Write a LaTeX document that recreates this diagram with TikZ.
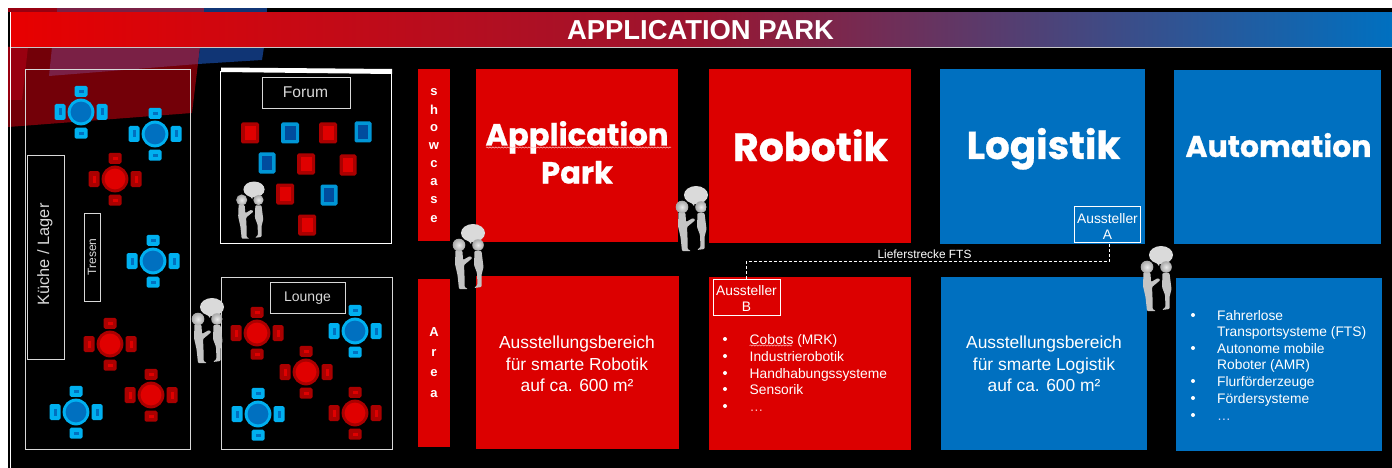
\documentclass[tikz,border=0pt]{standalone}
\usepackage{fontspec}
\setmainfont{Liberation Sans}
\newfontfamily\heavyfont{Poppins}[UprightFont=* Bold,UprightFeatures={FakeBold=0.7}]
\usetikzlibrary{decorations.pathmorphing}
\definecolor{rbox}{HTML}{DC0000}
\definecolor{bbox}{HTML}{0070C0}
\definecolor{tblue}{HTML}{00B0F0}
\definecolor{tbluein}{HTML}{0070C0}
\definecolor{stblue}{HTML}{0096D6}
\definecolor{stbluein}{HTML}{004C9E}
\definecolor{tred}{HTML}{AA0000}
\definecolor{tredin}{HTML}{E00000}
\definecolor{hdmid}{HTML}{9A1530}
\definecolor{hdleft}{HTML}{E80000}
\definecolor{line}{HTML}{D8D8D8}
\definecolor{bgdark}{HTML}{730008}
\definecolor{bgred}{HTML}{990010}
\definecolor{bgmauve}{HTML}{7A2045}
\definecolor{bgblue}{HTML}{103575}
\definecolor{bubble}{HTML}{DADADA}
\definecolor{figbody}{HTML}{C4C4C4}
\definecolor{headin}{HTML}{EAEAEA}
\definecolor{headout}{HTML}{A8A8A8}
\tikzset{
  x=1pt,y=-1pt,
  redbox/.style={fill=rbox,draw=none,inner sep=0,outer sep=0,anchor=north west},
  bluebox/.style={fill=bbox,draw=none,inner sep=0,outer sep=0,anchor=north west},
  room/.style={draw=line,line width=1pt,inner sep=0,outer sep=0,anchor=north west},
  labelbox/.style={draw=white,line width=.9pt,inner sep=0,outer sep=0,text=white,align=center,font=\fontsize{13.8}{16}\selectfont},
  roomtext/.style={text=line,inner sep=0,font=\fontsize{15.6}{18}\selectfont},
  headline/.style={text=white,inner sep=0,anchor=base,font=\heavyfont\fontsize{#1}{#1}\selectfont},
  bodytext/.style={text=white,inner sep=0,align=center,font=\fontsize{17.4}{21.5}\selectfont},
  listtext/.style={text=white,inner sep=0,anchor=west,text height=10pt,text depth=0pt,font=\fontsize{13.8}{16}\selectfont},
  bullet/.style={circle,fill=white,inner sep=0,minimum size=4pt},
  letter/.style={text=white,inner sep=0,font=\bfseries\fontsize{13}{13}\selectfont},
  chair/.style={rounded corners=1.6pt,fill=#1},
  figure head/.style={inner color=headin,outer color=headout},
  squiggle/.style={draw=#1,line width=.5pt,decorate,decoration={snake,amplitude=.6pt,segment length=3pt}},
}
\newcommand{\ttable}[4]{%
  \begin{scope}[shift={(#1,#2)}]
    \fill[chair=#3] (-6.5,-26.2) rectangle (6.5,-15.2);
    \fill[chair=#3] (-6.5,15.7) rectangle (6.5,26.7);
    \fill[chair=#3] (-26.5,-8) rectangle (-15.5,8);
    \fill[chair=#3] (15.5,-8) rectangle (26.5,8);
    \fill[#4] (-2.5,-22.2) rectangle (2.5,-19.2);
    \fill[#4] (-2.5,19.7) rectangle (2.5,22.7);
    \fill[#4] (-22.5,-3.5) rectangle (-19.5,3.5);
    \fill[#4] (19.5,-3.5) rectangle (22.5,3.5);
    \fill[#3] (0,0) circle (13.4);
    \fill[#4] (0,0) circle (10.4);
  \end{scope}}
\newcommand{\stool}[5]{%
  \fill[rounded corners=1.6pt,fill=#4] (#1-#3,#2-10.5) rectangle (#1+#3,#2+10.5);
  \fill[#5] (#1-#3+3.5,#2-7) rectangle (#1+#3-3.5,#2+7);}
\newcommand{\person}[3]{%
  \begin{scope}[shift={(#1,#2)},scale=#3]
    \fill[bubble] (14,-12) ellipse (12 and 9);
    \fill[bubble] (8,-6) -- (12,-1) -- (13,-5) -- cycle;
    \fill[figbody,rounded corners=1pt] (-3.5,5) -- (3.5,6) -- (4,15) -- (11,11) -- (13.5,13) -- (5,20) -- (5.5,30) -- (5.5,42) -- (9,44) -- (0,44) -- (-1.5,30) -- (-4,19) -- cycle;
    \shade[figure head] (0,0) circle (6.3);
    \fill[figbody,rounded corners=1pt] (15.5,6) -- (22.5,6) -- (24.5,22) -- (22.5,30) -- (22.5,42) -- (15,43) -- (18.5,40) -- (18,28) -- (15,20) -- cycle;
    \shade[figure head] (19,0) circle (5.8);
  \end{scope}}
\begin{document}
\begin{tikzpicture}
\useasboundingbox (0,0) rectangle (1392,468);
\fill[white] (0,0) rectangle (1392,468);
\fill[black] (8,8) rectangle (1392,468);
% backdrop remnants
\fill[bgred] (8,8) rectangle (57,12);
\fill[bgmauve] (57,8) rectangle (204,12);
\fill[bgblue] (204,8) rectangle (267,12);
\fill[bgdark] (8,127) -- (192,113) -- (200,47) -- (8,47) -- cycle;
\fill[bgred] (8,100) -- (22,100) -- (28,47) -- (8,47) -- cycle;
\fill[bgmauve] (49,76) -- (198,64) -- (200,47) -- (52,47) -- cycle;
\fill[bgblue] (198,64) -- (262,60) -- (264,47) -- (200,47) -- cycle;
% header
\draw[white,line width=.9pt] (10.5,468) -- (10.5,12.2) -- (1392,12.2);
\shade[left color=hdleft,right color=hdmid] (11,13) rectangle (700,47);
\shade[left color=hdmid,right color=bbox] (700,13) rectangle (1392,47);
\draw[line!80!gray,line width=.9pt] (11,47) -- (1392,47);
\node[text=white,inner sep=0,font=\bfseries\fontsize{27.4}{27}\selectfont] (title) at (700.5,30) {APPLICATION PARK};
% cafe room
\node[room,minimum width=165pt,minimum height=379pt] (cafe) at (25.5,70) {};
\node[room,minimum width=36.5pt,minimum height=203pt] (kitchen) at (27.5,156) {};
\node[room,minimum width=16.5pt,minimum height=87.5pt] (tresen) at (84,213.5) {};
\node[roomtext,rotate=90,font=\fontsize{16.4}{18}\selectfont] (kitchentext) at (45,254.5) {Küche / Lager};
\node[roomtext,rotate=90,font=\fontsize{12}{14}\selectfont] (tresentext) at (92,257) {Tresen};
\ttable{81}{112}{tblue}{tbluein}
\ttable{155}{134}{tblue}{tbluein}
\ttable{115}{179}{tred}{tredin}
\ttable{153}{261}{tblue}{tbluein}
\ttable{110}{344}{tred}{tredin}
\ttable{151}{395}{tred}{tredin}
\ttable{76}{412}{tblue}{tbluein}
% forum
\fill[white] (221,67.5) -- (392,69) -- (392,74) -- (221,72) -- cycle;
\node[room,draw=white,minimum width=171pt,minimum height=171.5pt] (forum) at (220.5,72) {};
\node[room,minimum width=88pt,minimum height=30.5pt] (forumbox) at (262,78) {};
\node[roomtext] (forumtext) at (305.5,92.5) {Forum};
\stool{250}{133}{9}{tred}{tredin}
\stool{290}{133}{9}{stblue}{stbluein}
\stool{328}{133}{9}{tred}{tredin}
\stool{363}{132}{8.5}{stblue}{stbluein}
\stool{267}{163}{8.5}{stblue}{stbluein}
\stool{306}{164}{9}{tred}{tredin}
\stool{348}{165}{8.5}{tred}{tredin}
\stool{285}{194}{9}{tred}{tredin}
\stool{329}{195}{8.5}{stblue}{stbluein}
\stool{307}{225}{9}{tred}{tredin}
% lounge
\node[room,minimum width=171pt,minimum height=172.5pt] (lounge) at (221.5,277) {};
\node[room,minimum width=74.5pt,minimum height=31pt] (loungebox) at (270.5,282) {};
\node[roomtext,font=\fontsize{14}{18}\selectfont] (loungetext) at (307.5,298.5) {Lounge};
\ttable{257}{333}{tred}{tredin}
\ttable{355}{331}{tblue}{tbluein}
\ttable{306}{372}{tred}{tredin}
\ttable{258}{414}{tblue}{tbluein}
\ttable{355}{413}{tred}{tredin}
% showcase / area
\node[redbox,minimum width=32pt,minimum height=172pt] (showcase) at (418,69) {};
\node[redbox,minimum width=32pt,minimum height=168pt] (area) at (418,279) {};
\node[letter] (s1) at (434,92) {s};
\node[letter] (s2) at (434,110) {h};
\node[letter] (s3) at (434,128) {o};
\node[letter] (s4) at (434,146) {w};
\node[letter] (s5) at (434,164) {c};
\node[letter] (s6) at (434,182) {a};
\node[letter] (s7) at (434,200) {s};
\node[letter] (s8) at (434,219) {e};
\node[letter] (a1) at (434,332) {A};
\node[letter] (a2) at (434,353) {r};
\node[letter] (a3) at (434,373) {e};
\node[letter] (a4) at (434,394) {a};
% main boxes
\node[redbox,minimum width=202pt,minimum height=173pt] (appl) at (476,69) {};
\node[redbox,minimum width=203pt,minimum height=173pt] (applb) at (476,276) {};
\node[redbox,minimum width=202pt,minimum height=174pt] (robo) at (709,69) {};
\node[redbox,minimum width=202pt,minimum height=173pt] (robob) at (709,277) {};
\node[bluebox,minimum width=205pt,minimum height=175pt] (logi) at (940,69) {};
\node[bluebox,minimum width=206pt,minimum height=173pt] (logib) at (941,277) {};
\node[bluebox,minimum width=207pt,minimum height=174pt] (auto) at (1174,70) {};
\node[bluebox,minimum width=206pt,minimum height=173pt] (autob) at (1176,278) {};
% headlines
\node[headline=30.6] (h1) at (577,145.5) {Application};
\node[headline=30.6] (h2) at (577,183.5) {Park};
\node[headline=39.5] (h3) at (810.5,161) {Robotik};
\node[headline=38.8] (h4) at (1043.5,159) {Logistik};
\node[headline=30] (h5) at (1278.5,157) {Automation};
\draw[squiggle=red!25!white] (486,147.5) -- (671,147.5);
% body text
\node[bodytext] (b1) at (577,364) {Ausstellungsbereich\\für smarte Robotik\\auf ca. 600 m²};
\node[bodytext] (b2) at (1044,364) {Ausstellungsbereich\\für smarte Logistik\\auf ca. 600 m²};
% robotik list
\node[bullet] (rb1) at (725,339) {};
\node[bullet] (rb2) at (725,356) {};
\node[bullet] (rb3) at (725,373) {};
\node[bullet] (rb4) at (725,389) {};
\node[bullet] (rb5) at (725,406) {};
\node[listtext] (rt1) at (749.5,339.5) {Cobots (MRK)};
\node[listtext] (rt2) at (749.5,356.5) {Industrierobotik};
\node[listtext] (rt3) at (749.5,373.5) {Handhabungssysteme};
\node[listtext] (rt4) at (749.5,389.5) {Sensorik};
\node[listtext,text=red!25!white] (rt5) at (749.5,406.5) {…};
\draw[squiggle=red!25!white] (749.5,345.5) -- (792,345.5);
% automation list
\node[bullet] (ab1) at (1193,315) {};
\node[bullet] (ab2) at (1193,348) {};
\node[bullet] (ab3) at (1193,381) {};
\node[bullet] (ab4) at (1193,398) {};
\node[bullet] (ab5) at (1193,415) {};
\node[listtext] (at1) at (1217,315.5) {Fahrerlose};
\node[listtext] (at1b) at (1217,331.5) {Transportsysteme (FTS)};
\node[listtext] (at2) at (1217,348.5) {Autonome mobile};
\node[listtext] (at2b) at (1217,364.5) {Roboter (AMR)};
\node[listtext] (at3) at (1217,381.5) {Flurförderzeuge};
\node[listtext] (at4) at (1217,398.5) {Fördersysteme};
\node[listtext,text=blue!15!white] (at5) at (1217,415.5) {…};
% exhibitors and route
\node[labelbox,minimum width=66pt,minimum height=36pt,anchor=north west] (ausA) at (1074.5,206) {\rule{0pt}{15pt}Aussteller\\A};
\node[labelbox,minimum width=67pt,minimum height=36pt,anchor=north west] (ausB) at (713,279) {\rule{0pt}{13pt}Aussteller\\B};
\draw[white,line width=.8pt,dashed,dash pattern=on 3pt off 2pt] (ausB.north) -- ++(0,-18) -| ([xshift=2pt]ausA.south);
\node[text=white,inner sep=0,font=\fontsize{11.9}{13}\selectfont] (route) at (924.5,254) {Lieferstrecke FTS};
% people
\person{198}{319}{1}
\person{241.7}{200}{.88}
\person{459}{245}{1}
\person{682}{207}{1}
\person{1147}{267}{1}
\end{tikzpicture}
\end{document}
